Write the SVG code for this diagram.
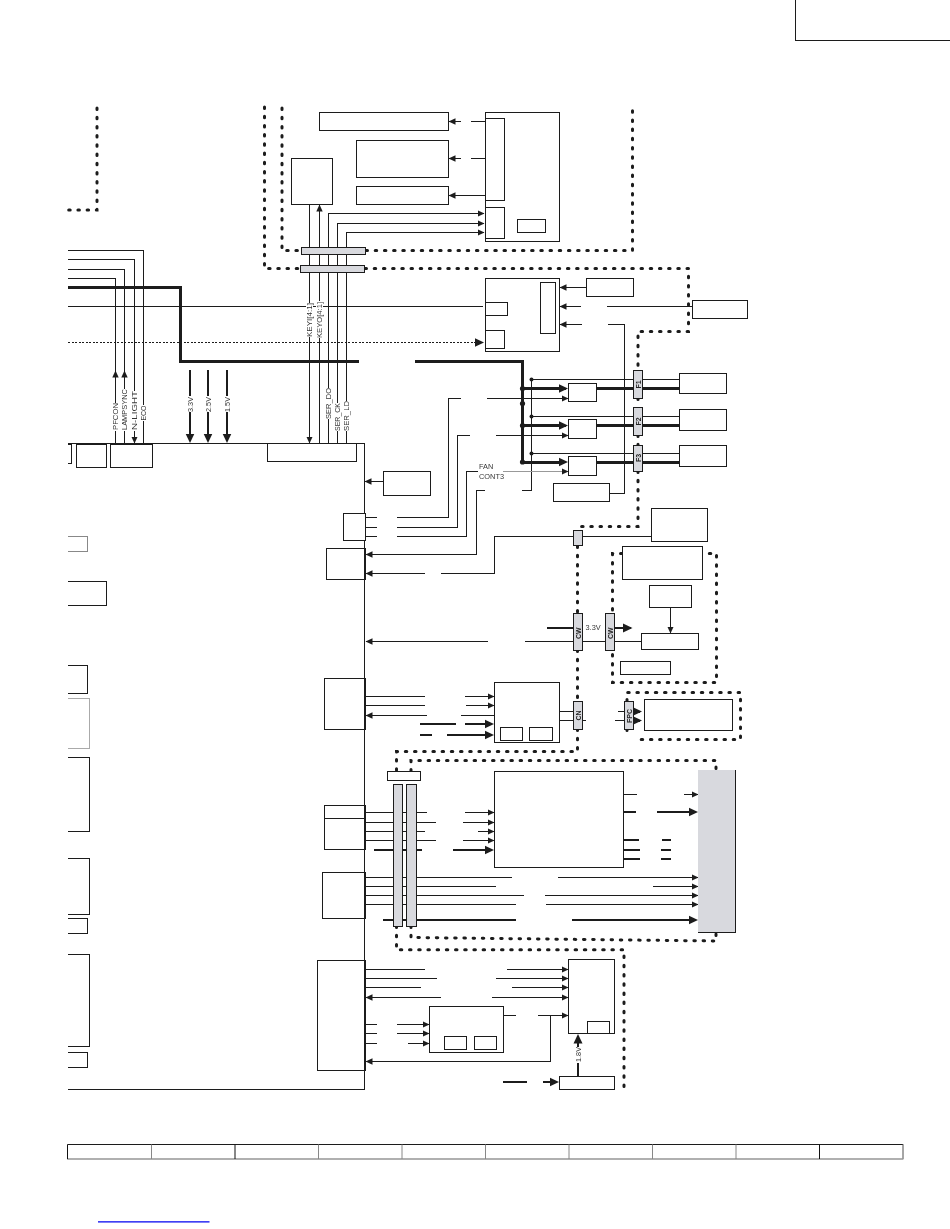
<svg xmlns="http://www.w3.org/2000/svg" width="950" height="1229" viewBox="0 0 950 1229">
<style>
.n{fill:#fff;stroke:#1c1c1c;stroke-width:1;shape-rendering:crispEdges}
.g{fill:#d8d9de;stroke:#1c1c1c;stroke-width:1;shape-rendering:crispEdges}
.l{fill:none;stroke:#1c1c1c;stroke-width:1;shape-rendering:crispEdges}
.m{fill:none;stroke:#1c1c1c;stroke-width:2;shape-rendering:crispEdges}
.t{fill:none;stroke:#1c1c1c;stroke-width:3;shape-rendering:crispEdges}
.d{fill:none;stroke:#1c1c1c;stroke-width:3;stroke-linecap:round;stroke-dasharray:1.5 7.7}
.a{marker-end:url(#a)}
.b{marker-end:url(#b)}
text{font-family:"Liberation Sans",Arial,sans-serif;font-size:7.4px;fill:#333}
.k{font-weight:bold;font-size:7px;fill:#222}
.w{fill:#fff}
</style>
<defs>
<marker id="a" markerUnits="userSpaceOnUse" markerWidth="9" markerHeight="9" refX="6.5" refY="4" orient="auto"><path d="M0,0.8 L7,4 L0,7.2 Z" fill="#1c1c1c"/></marker>
<marker id="b" markerUnits="userSpaceOnUse" markerWidth="11" markerHeight="11" refX="7.5" refY="5" orient="auto"><path d="M0,0.5 L9.5,5 L0,9.5 Z" fill="#1c1c1c"/></marker>
</defs>

<g id="page-corner"><path class="l" d="M795,0 V40.5 H950"/></g>

<g id="dotted-frames">
<path class="d" d="M97,108 V210 H68"/>
<path class="d" d="M264.5,107 V268.5 H300"/>
<path class="d" d="M365,268.5 H688.5 V331.5 H638 V370"/>
<path class="d" d="M282,108 V250.5 H301"/>
<path class="d" d="M366,250.5 H632.5 V110"/>
<path class="d" d="M638,398 V407"/>
<path class="d" d="M638,435 V445"/>
<path class="d" d="M638,471 V526.5 H577.5 V530"/>
<path class="d" d="M577.5,546 V613"/>
<path class="d" d="M577.5,650 V701"/>
<path class="d" d="M577.5,729 V751.5 H396.5 V771"/>
<path class="d" d="M622,553.5 H612.5 V682.5 H716.5 V553.5 H702"/>
<path class="d" d="M627,701 V692.5 H740.5 V739.5 H635.5 M627,729 V734"/>
<path class="d" d="M411,771 V760.5 H716 V770"/>
<path class="d" d="M411,926 V937.5 L716,941 V932"/>
<path class="d" d="M396.5,926 V949.8 H624 V1093"/>
</g>

<g id="connectors">
<path class="l" d="M68,250.5 H143.5 V443"/>
<path class="l" d="M68,259.5 H134.5 V443"/>
<path class="l a" d="M134.5,430 V443"/>
<path class="l" d="M68,269.5 H124.5 V443"/>
<path class="l a" d="M124.5,385 V371"/>
<path class="l" d="M68,278.5 H115.5 V443"/>
<path class="l a" d="M115.5,385 V371"/>
<path class="t" d="M68,287.5 H180.5 V361 H359"/>
<path class="t" d="M415,361 H522.5 V462"/>
<path class="l" d="M68,306.5 H483"/>
<path class="l" d="M68,342.5 H478" stroke-dasharray="2 1.5"/>
<path class="l b" d="M476,342.5 H482"/>
<path class="m b" d="M190,370 V441"/>
<path class="m b" d="M208,370 V441"/>
<path class="m b" d="M227,370 V441"/>
<path class="l a" d="M309.5,205 V443"/>
<path class="l a" d="M319.5,443 V205"/>
<path class="l a" d="M328.5,443 V213.5 H484"/>
<path class="l a" d="M337.5,443 V223.5 H484"/>
<path class="l a" d="M346.5,443 V232.5 H484"/>
<path class="l" d="M471,121.5 H485"/><path class="l a" d="M461,121.5 H449"/>
<path class="l" d="M471,158.5 H485"/><path class="l a" d="M461,158.5 H449"/>
<path class="l a" d="M485,195.5 H449"/>
<path class="l a" d="M586,287.5 H560"/>
<path class="l a" d="M581,306.5 H560"/>
<path class="l" d="M607,306.5 H692"/>
<path class="l a" d="M582,324.5 H560"/>
<path class="l" d="M608,324.5 H624.5 V493.5 H609"/>
<path class="l a" d="M383,481.5 H365"/>
<path class="t" d="M522,388.5 H560"/>
<path class="t" d="M522,425.5 H560"/>
<path class="t" d="M522,462 H560"/>
<path class="m b" d="M556,388.5 H566"/>
<path class="m b" d="M556,425.5 H566"/>
<path class="m b" d="M556,462 H566"/>
<path class="t" d="M596,388.5 H679"/>
<path class="t" d="M596,425.5 H679"/>
<path class="t" d="M596,462 H679"/>
<path class="l" d="M531,379.5 H679"/>
<path class="l" d="M531,416.5 H679"/>
<path class="l" d="M531,453.5 H679"/>
<path class="l" d="M522,490.5 H531.5 V379.5"/>
<circle cx="531.5" cy="379.5" r="2" fill="#1c1c1c"/>
<circle cx="531.5" cy="416.5" r="2" fill="#1c1c1c"/>
<circle cx="531.5" cy="453.5" r="2" fill="#1c1c1c"/>
<circle cx="522.5" cy="388.5" r="2.6" fill="#1c1c1c"/>
<circle cx="522.5" cy="403.5" r="2.6" fill="#1c1c1c"/>
<circle cx="522.5" cy="425.5" r="2.6" fill="#1c1c1c"/>
<circle cx="522.5" cy="462" r="2.6" fill="#1c1c1c"/>
<path class="l a" d="M487,398.5 H568"/>
<path class="l" d="M460.5,398.5 H448.5 V517.5 H397"/>
<path class="l a" d="M496,435.5 H568"/>
<path class="l" d="M470,435.5 H457.5 V527.5 H397"/>
<path class="a" d="M503,471.5 H568" fill="none" stroke="#999" stroke-width="1"/>
<path class="l" d="M478,471.5 H466.5 V536.5 H397"/>
<path class="l" d="M365,517.5 H377 M365,527.5 H377 M365,536.5 H377"/>
<path class="l a" d="M485,490.5 H476.5 V554.5 H366"/>
<path class="l a" d="M425,573.5 H366"/>
<path class="l" d="M441,573.5 H494.5 V536.5 H651"/>
<path class="l a" d="M670.5,607 V633"/>
<path class="l a" d="M488,641.5 H366"/>
<path class="l" d="M525,641.5 H641"/>
<path class="m" d="M547,628 H573"/>
<path class="m b" d="M614,628 H630.5"/>
<path class="l" d="M365,696.5 H425"/><path class="l a" d="M464.5,696.5 H494"/>
<path class="l" d="M365,705.5 H425"/><path class="l a" d="M465.5,705.5 H494"/>
<path class="l a" d="M427,715.5 H366"/><path class="l" d="M461,715.5 H494"/>
<path class="m" d="M420,724 H456"/><path class="m b" d="M465,724 H492"/>
<path class="m" d="M420,735 H432"/><path class="m b" d="M447,735 H492"/>
<path class="l" d="M559,711.5 H573 M559,720.5 H586"/>
<path class="l" d="M618,711.5 H625"/>
<path class="m b" d="M634,711.5 H640"/>
<path class="l" d="M615,720.5 H625"/>
<path class="m b" d="M634,720.5 H640"/>
<path class="l" d="M366,812.5 H426.5"/><path class="l a" d="M465,812.5 H494"/>
<path class="l" d="M366,822.5 H436"/><path class="l a" d="M463,822.5 H494"/>
<path class="l" d="M366,831.5 H425"/><path class="l a" d="M477.5,831.5 H494"/>
<path class="l" d="M366,840.5 H436"/><path class="l a" d="M463.3,840.5 H494"/>
<path class="m" d="M373.5,850 H422"/><path class="m b" d="M453,850 H492"/>
<path class="l" d="M623,794.5 H637"/><path class="l a" d="M684,794.5 H698"/>
<path class="m" d="M623,812 H636"/><path class="m b" d="M657,812 H696"/>
<path class="m" d="M623,840 H639 M662,840 H671"/>
<path class="m" d="M623,850 H640 M661,850 H671"/>
<path class="m" d="M623,859 H640 M661,859 H671"/>
<path class="l" d="M366,877.5 H512"/><path class="l a" d="M557.5,877.5 H698"/>
<path class="l" d="M366,886.5 H496"/><path class="l a" d="M653,886.5 H698"/>
<path class="l" d="M366,895.5 H524"/><path class="l a" d="M545,895.5 H698"/>
<path class="l" d="M366,904.5 H515.5"/><path class="l a" d="M546,904.5 H698"/>
<path class="m" d="M383,920 H516"/><path class="m b" d="M572,920 H696"/>
<path class="l" d="M366,969.5 H425"/><path class="l a" d="M507,969.5 H568"/>
<path class="l" d="M366,978.5 H437"/><path class="l a" d="M495.5,978.5 H568"/>
<path class="l" d="M366,987.5 H420.5"/><path class="l a" d="M512,987.5 H568"/>
<path class="l a" d="M440.5,997.5 H366"/><path class="l a" d="M492,997.5 H568"/>
<path class="l" d="M366,1024.5 H377"/><path class="l a" d="M397,1024.5 H429"/>
<path class="l" d="M366,1033.5 H377"/><path class="l a" d="M397,1033.5 H429"/>
<path class="l" d="M366,1043.5 H377"/><path class="l a" d="M408,1043.5 H429"/>
<path class="l" d="M503,1015.5 H516"/><path class="l a" d="M538,1015.5 H568"/>
<path class="l a" d="M550.5,1015.5 V1061.5 H366"/>
<path class="m b" d="M578,1076 V1036"/>
<path class="m" d="M503,1082 H527"/><path class="m b" d="M543,1082 H557"/>
</g>

<g id="main-board"><path class="l" d="M68,443.5 H364.5 V1089.5 H68"/></g>
<g id="board-left-boxes">
<path class="n" d="M68,444 H71.5 V463 H68"/>
<rect class="n" x="76.5" y="444" width="30" height="23"/>
<rect class="n" x="110.5" y="444" width="42" height="23"/>
<path class="l" style="stroke:#888" d="M68,536 H87.5 V551 H68"/>
<path class="l" d="M68,581.5 H106.5 V605 H68"/>
<path class="l" d="M68,665.5 H87.5 V693 H68"/>
<path class="l" style="stroke:#aaa" d="M68,698.5 H89.5 V748 H68"/>
<path class="l" d="M68,757.5 H89.5 V831.5 H68"/>
<path class="l" d="M68,858.5 H89.5 V914 H68"/>
<path class="l" d="M68,918 H87.5 V933 H68"/>
<path class="l" d="M68,954.5 H89.5 V1046.5 H68"/>
<path class="l" d="M68,1052.5 H87.5 V1067.5 H68"/>
</g>
<g id="key-connector"><rect class="n" x="267.5" y="443.5" width="89" height="18"/></g>

<g id="panel-top-left"><rect class="n" x="291.5" y="158.5" width="41" height="46"/></g>
<g id="bar-1"><rect class="g" x="301.5" y="247.5" width="64" height="7"/></g>
<g id="bar-2"><rect class="g" x="300.5" y="265.5" width="64" height="7"/></g>
<g id="box-a"><rect class="n" x="319.5" y="112.5" width="129" height="18"/></g>
<g id="box-b"><rect class="n" x="356.5" y="140.5" width="92" height="37"/></g>
<g id="box-c"><rect class="n" x="356.5" y="186.5" width="92" height="18"/></g>
<g id="board-d">
<rect class="n" x="485.5" y="112.5" width="74" height="129"/>
<rect class="n" x="485.5" y="118.5" width="19" height="82"/>
<rect class="n" x="485.5" y="207.5" width="19" height="31"/>
<rect class="n" x="517.5" y="219.5" width="28" height="13"/>
</g>
<g id="board-e">
<rect class="n" x="485.5" y="278.5" width="74" height="73"/>
<rect class="n" x="540.5" y="282.5" width="15" height="51"/>
<rect class="n" x="485.5" y="302.5" width="22" height="13"/>
<rect class="n" x="485.5" y="330.5" width="19" height="18"/>
</g>
<g id="box-e1"><rect class="n" x="586.5" y="278.5" width="47" height="18"/></g>
<g id="box-e2"><rect class="n" x="692.5" y="300.5" width="55" height="18"/></g>
<g id="box-e3"><rect class="n" x="553.5" y="483.5" width="56" height="18"/></g>
<g id="box-fan-left"><rect class="n" x="383.5" y="471" width="47" height="24.5"/></g>

<g id="fan-drivers">
<rect class="n" x="568.5" y="383.5" width="28" height="18"/>
<rect class="n" x="568.5" y="419.5" width="28" height="19"/>
<rect class="n" x="568.5" y="456.5" width="28" height="19"/>
</g>
<g id="fans">
<rect class="n" x="679.5" y="373.5" width="47" height="20"/>
<rect class="n" x="679.5" y="409.5" width="47" height="21"/>
<rect class="n" x="679.5" y="445.5" width="47" height="21"/>
</g>
<g id="f1"><rect class="g" x="633.5" y="370.5" width="9" height="28"/></g>
<g id="f2"><rect class="g" x="633.5" y="407.5" width="9" height="28"/></g>
<g id="f3"><rect class="g" x="633.5" y="445.5" width="9" height="26"/></g>
<g id="conn-small"><rect class="g" x="573.5" y="530.5" width="9" height="15"/></g>
<g id="box-right-1"><rect class="n" x="651.5" y="508.5" width="56" height="33"/></g>
<g id="conn-left-1"><rect class="n" x="343.5" y="513.5" width="22" height="27"/></g>
<g id="conn-left-2"><rect class="n" x="326.5" y="548.5" width="39" height="31"/><path class="m" d="M365,548.5 V579.5"/></g>
<g id="box-p1"><rect class="n" x="622.5" y="546.5" width="80" height="33"/></g>
<g id="box-p2"><rect class="n" x="649.5" y="585.5" width="42" height="22"/></g>
<g id="box-p3"><rect class="n" x="641.5" y="633.5" width="57" height="16"/></g>
<g id="box-p4"><rect class="n" x="620.5" y="661.5" width="50" height="13"/></g>
<g id="cw-1"><rect class="g" x="573.5" y="613.5" width="9" height="37"/></g>
<g id="cw-2"><rect class="g" x="605.5" y="613.5" width="9" height="37"/></g>
<g id="board-f">
<rect class="n" x="494.5" y="682.5" width="65" height="60"/>
<rect class="n" x="500.5" y="727.5" width="22" height="13"/>
<rect class="n" x="529.5" y="727.5" width="23" height="13"/>
</g>
<g id="conn-left-3"><rect class="n" x="324.5" y="678.5" width="41" height="51"/><path class="m" d="M365,678.5 V729.5"/></g>
<g id="cn"><rect class="g" x="573.5" y="701.5" width="9" height="28"/></g>
<g id="fpc"><rect class="g" x="624.5" y="701.5" width="9" height="28"/></g>
<g id="box-lcd"><rect class="n" x="644.5" y="699.5" width="88" height="31"/></g>

<g id="conn-top"><rect class="n" x="387.5" y="771.5" width="33" height="9"/></g>
<g id="long-bars">
<rect class="g" x="393.5" y="784.5" width="9" height="142"/>
<rect class="g" x="406.5" y="784.5" width="10" height="142"/>
</g>
<g id="board-g"><rect class="n" x="494.5" y="771.5" width="129" height="96"/></g>
<g id="conn-left-4"><rect class="n" x="324.5" y="805.5" width="41" height="44"/><path class="l" d="M324.5,818.5 H365"/><path class="m" d="M365,805.5 V849.5"/></g>
<g id="conn-left-5"><rect class="n" x="322.5" y="872.5" width="43" height="46"/><path class="m" d="M365,872.5 V918.5"/></g>
<g id="panel-gray"><rect x="698" y="770" width="37.5" height="162.5" fill="#d8d9de"/><path class="l" d="M735.5,770 V932.5 H698"/></g>

<g id="conn-left-6"><rect class="n" x="317.5" y="960.5" width="48" height="110"/><path class="m" d="M365,960.5 V1070.5"/></g>
<g id="board-h">
<rect class="n" x="568.5" y="959.5" width="46" height="74"/>
<rect class="n" x="587.5" y="1021.5" width="22" height="12"/>
</g>
<g id="board-i">
<rect class="n" x="429.5" y="1006.5" width="74" height="46"/>
<rect class="n" x="444.5" y="1036.5" width="22" height="13"/>
<rect class="n" x="474.5" y="1036.5" width="22" height="13"/>
</g>
<g id="regulator"><rect class="n" x="559.5" y="1076.5" width="55" height="13"/></g>

<g id="label-backs">
<rect class="w" x="112" y="403" width="7" height="28"/>
<rect class="w" x="121" y="389" width="7" height="42"/>
<rect class="w" x="131" y="391" width="7" height="40"/>
<rect class="w" x="140" y="405" width="7" height="16"/>
<rect class="w" x="186" y="396" width="8" height="16"/>
<rect class="w" x="204" y="396" width="8" height="16"/>
<rect class="w" x="223" y="396" width="8" height="16"/>
<rect class="w" x="306" y="303" width="7" height="34"/>
<rect class="w" x="316" y="301" width="7" height="37"/>
<rect class="w" x="325" y="388" width="7" height="31"/>
<rect class="w" x="334" y="403" width="7" height="28"/>
<rect class="w" x="343" y="401" width="7" height="30"/>
<rect class="w" x="575" y="1047" width="7" height="16"/>
<rect class="w" x="584" y="623" width="20" height="9"/>
</g>
<g id="labels" opacity="0.99">
<text transform="translate(118,430) rotate(-90)" textLength="27" lengthAdjust="spacingAndGlyphs">PFCON</text>
<text transform="translate(127,430) rotate(-90)" textLength="41" lengthAdjust="spacingAndGlyphs">LAMPSYNC</text>
<text transform="translate(137,430) rotate(-90)" textLength="39" lengthAdjust="spacingAndGlyphs">N-LIGHT</text>
<text transform="translate(146,420.5) rotate(-90)" textLength="15" lengthAdjust="spacingAndGlyphs">ECO</text>
<text transform="translate(192.5,412) rotate(-90)" textLength="15" lengthAdjust="spacingAndGlyphs">3.3V</text>
<text transform="translate(210.5,412) rotate(-90)" textLength="15" lengthAdjust="spacingAndGlyphs">2.5V</text>
<text transform="translate(229.5,412) rotate(-90)" textLength="15" lengthAdjust="spacingAndGlyphs">1.5V</text>
<text transform="translate(312,337) rotate(-90)" textLength="34" lengthAdjust="spacingAndGlyphs">KEYI[4:1]</text>
<text transform="translate(322,338) rotate(-90)" textLength="36" lengthAdjust="spacingAndGlyphs">KEYO[4:1]</text>
<text transform="translate(331,419) rotate(-90)" textLength="31" lengthAdjust="spacingAndGlyphs">SER_DO</text>
<text transform="translate(340,431) rotate(-90)" textLength="28" lengthAdjust="spacingAndGlyphs">SER_CK</text>
<text transform="translate(349,431) rotate(-90)" textLength="30" lengthAdjust="spacingAndGlyphs">SER_LD</text>
<text x="479" y="469">FAN</text>
<text x="479" y="478.5">CONT3</text>
<text x="585.5" y="630.3">3.3V</text>
<text transform="translate(581,1062) rotate(-90)" textLength="15" lengthAdjust="spacingAndGlyphs">1.8V</text>
<text class="k" transform="translate(640.5,388.5) rotate(-90)">F1</text>
<text class="k" transform="translate(640.5,425.5) rotate(-90)">F2</text>
<text class="k" transform="translate(640.5,462) rotate(-90)">F3</text>
<text class="k" transform="translate(580.5,639) rotate(-90)">CW</text>
<text class="k" transform="translate(612.5,639) rotate(-90)">CW</text>
<text class="k" transform="translate(580.5,720.5) rotate(-90)">CN</text>
<text class="k" transform="translate(631.5,723) rotate(-90)">FPC</text>
</g>

<g id="footer-table">
<rect x="67.5" y="1144.5" width="835.5" height="14.5" fill="none" stroke="#888" stroke-width="1"/>
<path class="l" stroke="#000" d="M67.5,1144.5 H903"/>
<path d="M67.5,1159 H903" stroke="#aaa" stroke-width="1.6" fill="none"/>
<path d="M151.5,1144.5 V1159 M318.5,1144.5 V1159 M402,1144.5 V1159 M485.5,1144.5 V1159 M569,1144.5 V1159 M652.5,1144.5 V1159 M736,1144.5 V1159 M903,1144.5 V1159" stroke="#888" stroke-width="1" fill="none"/>
<path d="M67.5,1144.5 V1159 M235,1144.5 V1159 M819.5,1144.5 V1159" stroke="#111" stroke-width="1" fill="none"/>
</g>
<g id="link-underline"><path d="M98,1221.8 H209.5" stroke="#0000f0" stroke-width="1.3" fill="none"/></g>
</svg>
